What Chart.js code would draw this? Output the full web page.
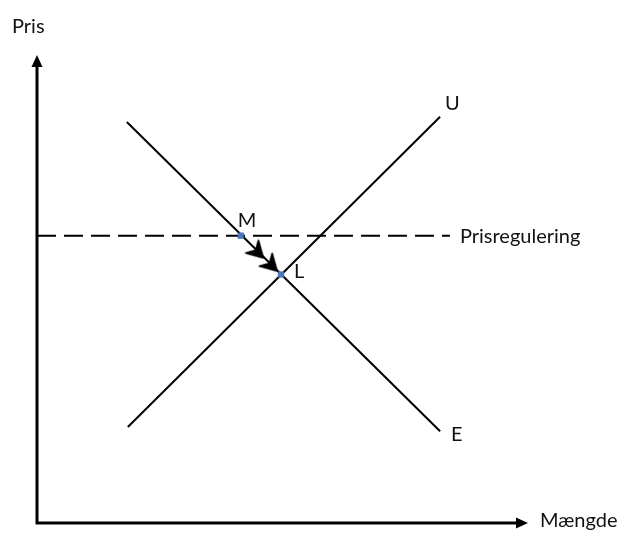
<!DOCTYPE html>
<html>
<head>
<meta charset="utf-8">
<script src="https://cdn.jsdelivr.net/npm/chart.js@4/dist/chart.umd.min.js"></script>
<style>
  html, body { margin: 0; padding: 0; background: #ffffff; }
  #wrap { width: 627px; height: 534px; }
</style>
</head>
<body>
<div id="wrap"><canvas id="c" width="627" height="534"></canvas></div>
<script>
// ---- Data (quantity on x, price on y, arbitrary units 0..100) ----
const axisLabels = { x: "Mængde", y: "Pris" };
const supplyName = "U";
const demandName = "E";
const regulationName = "Prisregulering";
const supplyLine = [ { x: 18.5, y: 20.5 }, { x: 82.1, y: 86.8 } ];
const demandLine = [ { x: 18.3, y: 85.7 }, { x: 82.1, y: 19.6 } ];
const regulationPrice = 61.4;
const regulationLine = [ { x: 0, y: regulationPrice }, { x: 84.1, y: regulationPrice } ];
const pointNames = ["M", "L"];
const keyPoints = [ { x: 41.5, y: 61.4 }, { x: 49.7, y: 53.1 } ];
const movePoints = [ { x: 44.8, y: 58.0 }, { x: 47.6, y: 55.2 } ];

const FONT = '"Lato", "Open Sans", sans-serif';

// chevron marker (points right; rotated to follow the demand curve)
function makeChevron() {
  const s = 20;
  const cv = document.createElement('canvas');
  cv.width = s; cv.height = s;
  const g = cv.getContext('2d');
  g.fillStyle = '#000';
  g.beginPath();
  g.moveTo(19, 10);
  g.lineTo(3, 1);
  g.lineTo(8, 10);
  g.lineTo(3, 19);
  g.closePath();
  g.fill();
  g.lineWidth = 1.5;
  g.strokeStyle = '#000';
  g.lineJoin = 'round';
  g.stroke();
  return cv;
}
const chevron = makeChevron();

const decorations = {
  id: 'decorations',
  afterDatasetsDraw(chart) {
    const { ctx, chartArea: a, scales: { x, y } } = chart;
    ctx.save();
    // axes
    ctx.strokeStyle = '#000';
    ctx.fillStyle = '#000';
    ctx.lineWidth = 3;
    ctx.lineCap = 'butt';
    ctx.beginPath();
    ctx.moveTo(a.left, a.bottom + 1.5);
    ctx.lineTo(a.left, a.top + 10);
    ctx.moveTo(a.left - 1.5, a.bottom);
    ctx.lineTo(a.right - 10, a.bottom);
    ctx.stroke();
    // arrow heads
    ctx.beginPath();
    ctx.moveTo(a.left, a.top);
    ctx.lineTo(a.left - 5.5, a.top + 12);
    ctx.lineTo(a.left + 5.5, a.top + 12);
    ctx.closePath();
    ctx.fill();
    ctx.beginPath();
    ctx.moveTo(a.right, a.bottom);
    ctx.lineTo(a.right - 12, a.bottom - 5.5);
    ctx.lineTo(a.right - 12, a.bottom + 5.5);
    ctx.closePath();
    ctx.fill();

    // texts
    ctx.fillStyle = '#111';
    ctx.font = '20px ' + FONT;
    ctx.textBaseline = 'alphabetic';
    ctx.textAlign = 'left';
    ctx.fillText(axisLabels.y, a.left - 25, a.top - 22);
    ctx.fillText(axisLabels.x, a.right + 12, a.bottom + 4);
    const su = supplyLine[1], de = demandLine[1];
    ctx.fillText(supplyName, x.getPixelForValue(su.x) + 5, y.getPixelForValue(su.y) - 7);
    ctx.fillText(demandName, x.getPixelForValue(de.x) + 11, y.getPixelForValue(de.y) + 10);
    const rl = regulationLine[1];
    ctx.fillText(regulationName, x.getPixelForValue(rl.x) + 10, y.getPixelForValue(rl.y) + 7);
    ctx.fillText(pointNames[0], x.getPixelForValue(keyPoints[0].x) - 3, y.getPixelForValue(keyPoints[0].y) - 9);
    ctx.fillText(pointNames[1], x.getPixelForValue(keyPoints[1].x) + 13, y.getPixelForValue(keyPoints[1].y) + 4);
    ctx.restore();
  }
};

new Chart(document.getElementById('c'), {
  type: 'scatter',
  data: {
    datasets: [
      { label: 'points', data: keyPoints, showLine: false, pointStyle: 'rect', pointRadius: 4, backgroundColor: '#4a78c0', borderColor: '#3a64a8', borderWidth: 0.5 },
      { label: 'move', data: movePoints, showLine: false, pointStyle: chevron, rotation: 45, pointRadius: 10 },
      { label: demandName, data: demandLine, showLine: true, borderColor: '#000', borderWidth: 2, pointRadius: 0 },
      { label: supplyName, data: supplyLine, showLine: true, borderColor: '#000', borderWidth: 2, pointRadius: 0 },
      { label: regulationName, data: regulationLine, showLine: true, borderColor: '#000', borderWidth: 2, borderDash: [19, 8], pointRadius: 0 }
    ]
  },
  options: {
    responsive: false,
    animation: false,
    devicePixelRatio: 1,
    layout: { padding: { left: 37, right: 99, top: 55, bottom: 10 } },
    plugins: { legend: { display: false }, tooltip: { enabled: false } },
    scales: {
      x: { type: 'linear', min: 0, max: 100, display: false },
      y: { type: 'linear', min: 0, max: 100, display: false }
    }
  },
  plugins: [decorations]
});
</script>
</body>
</html>
